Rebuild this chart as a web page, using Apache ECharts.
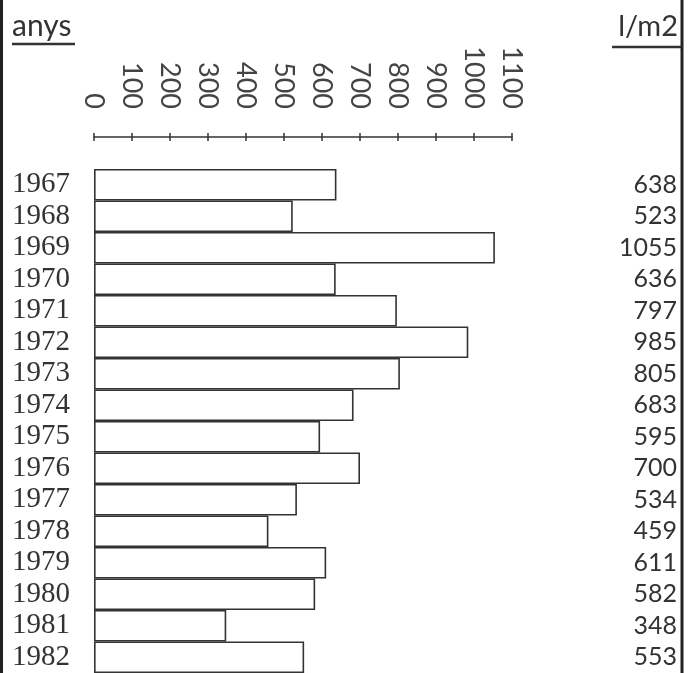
<!DOCTYPE html>
<html><head><meta charset="utf-8">
<script src="https://cdn.jsdelivr.net/npm/echarts/dist/echarts.min.js"></script>
<style>html,body{margin:0;padding:0;background:#fff}#c{width:693px;height:673px}</style>
</head><body><div id="c"></div>
<script>
const years = ['1967','1968','1969','1970','1971','1972','1973','1974','1975','1976','1977','1978','1979','1980','1981','1982'];
const rainfall = [638, 523, 1055, 636, 797, 985, 805, 683, 595, 700, 534, 459, 611, 582, 348, 553];
const axisMin = 0, axisMax = 1100, axisStep = 100;
const leftTitle = 'anys';
const rightTitle = 'l/m2';

const ink = '#333';
const chart = echarts.init(document.getElementById('c'));
const valueAxisBase = {
  type: 'value', position: 'top', min: axisMin, max: axisMax, interval: axisStep, offset: 32,
  splitLine: { show: false }
};
chart.setOption({
  animation: false,
  backgroundColor: '#fff',
  grid: { left: 94, top: 169, width: 418, height: 508 },
  xAxis: [
    Object.assign({}, valueAxisBase, {
      axisLine: { show: true, lineStyle: { color: ink, width: 1.5 } },
      axisTick: { show: true, length: 4, lineStyle: { color: ink, width: 1.5 } },
      axisLabel: { rotate: 90, margin: 28, fontFamily: 'Lato', fontSize: 27, color: '#444',
        formatter: v => String(v) }
    }),
    Object.assign({}, valueAxisBase, {
      axisLine: { show: false },
      axisTick: { show: true, inside: true, length: 4, lineStyle: { color: ink, width: 1.5 } },
      axisLabel: { show: false }
    })
  ],
  yAxis: [
    {
      type: 'category', data: years, inverse: true,
      axisLine: { show: false }, axisTick: { show: false },
      axisLabel: { interval: 0, margin: 24, fontFamily: 'Liberation Serif', fontSize: 29, color: ink }
    },
    {
      type: 'category', position: 'right', data: rainfall.map(String), inverse: true,
      axisLine: { show: false }, axisTick: { show: false },
      axisLabel: { interval: 0, align: 'right', margin: 165, fontFamily: 'Lato', fontSize: 25, color: ink }
    }
  ],
  series: [{
    type: 'bar', data: rainfall, xAxisIndex: 0, yAxisIndex: 0,
    barCategoryGap: '0%',
    itemStyle: { color: '#fff', borderColor: ink, borderWidth: 1.6 }
  }],
  graphic: [
    { type: 'text', x: 12, y: 26, style: { text: leftTitle, font: '30px Lato', fill: ink, align: 'left', verticalAlign: 'middle' } },
    { type: 'line', shape: { x1: 12, y1: 44, x2: 75, y2: 44 }, style: { stroke: ink, lineWidth: 2.5 } },
    { type: 'text', x: 678, y: 27, style: { text: rightTitle, font: '29px Lato', fill: ink, align: 'right', verticalAlign: 'middle' } },
    { type: 'line', shape: { x1: 612, y1: 47, x2: 681, y2: 47 }, style: { stroke: ink, lineWidth: 2.5 } },
    { type: 'line', shape: { x1: 1.5, y1: 0, x2: 1.5, y2: 673 }, style: { stroke: '#222', lineWidth: 3 } },
    { type: 'line', shape: { x1: 682, y1: 0, x2: 682, y2: 673 }, style: { stroke: '#222', lineWidth: 3 } }
  ]
});
</script>
</body></html>
